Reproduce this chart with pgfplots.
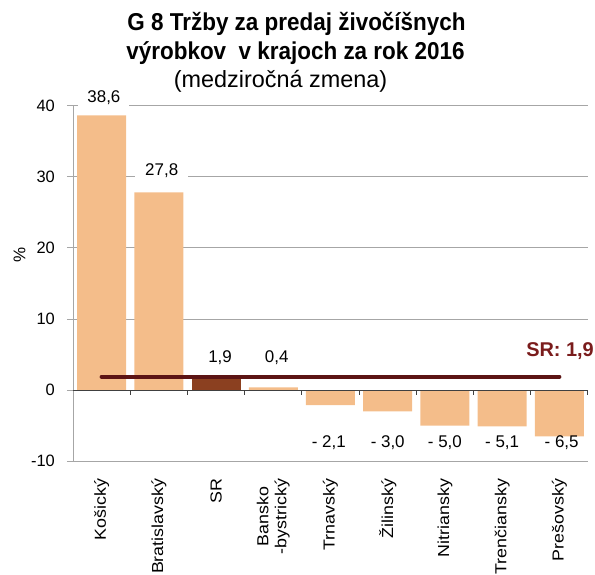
\documentclass[border=0pt]{standalone}
\usepackage{fontspec}
\setmainfont{Liberation Sans}
\newfontfamily\titlefont[FakeStretch=0.92]{Liberation Sans}
\newfontfamily\vfont[FakeStretch=1.12]{Liberation Sans}
\usepackage{pgfplots}
\pgfplotsset{compat=1.18}
\definecolor{barlight}{HTML}{F4BD8A}
\definecolor{barsr}{HTML}{8B4020}
\definecolor{srline}{HTML}{5C1414}
\definecolor{srtext}{HTML}{7A1C1C}
\definecolor{gridc}{HTML}{A6A6A6}
\definecolor{zeroc}{HTML}{404040}
\begin{document}
\begin{tikzpicture}
\path[use as bounding box] (-73bp,-113.7bp) rectangle (522bp,461.3bp);
\begin{axis}[
  at={(0,0)}, anchor=south west,
  scale only axis, width=515bp, height=355.8bp,
  xmin=-0.5, xmax=8.5, ymin=-10, ymax=40,
  clip=false,
  axis y line*=left, axis x line*=bottom,
  x axis line style={draw=none},
  y axis line style={draw=gridc, line width=0.8bp},
  xtick={0,...,8},
  xticklabels={Košický, Bratislavský, SR, {Bansko\\-bystrický}, Trnavský, Žilinský, Nitriansky, Trenčiansky, Prešovský},
  xtick style={draw=none},
  xticklabel style={rotate=90, anchor=east, align=center, inner sep=0pt, font=\fontsize{16}{18}\vfont, text=black},
  xticklabel shift=11.2bp,
  ytick={-10,0,10,20,30,40},
  yticklabels={-10,0,10,20,30,40},
  ytick style={draw=gridc, line width=0.8bp},
  tick align=outside, major tick length=6bp,
  yticklabel style={inner sep=0pt, font=\fontsize{16.5}{19}\selectfont, text=black},
  yticklabel shift=12bp,
  ymajorgrids, grid style={draw=gridc, line width=0.8bp},
]
\addplot[ybar, bar width=49bp, bar shift=0pt, fill=barlight, draw=none]
  coordinates {(0,38.6) (1,27.8) (3,0.4) (4,-2.1) (5,-3.0) (6,-5.0) (7,-5.1) (8,-6.5)};
\addplot[ybar, bar width=49bp, bar shift=0pt, fill=barsr, draw=none]
  coordinates {(2,1.9)};
\draw[zeroc, line width=1bp] (axis cs:-0.5,0) -- (axis cs:8.5,0);
\draw[zeroc, line width=1bp]
  (axis cs:0.5,0) -- (axis cs:0.5,-0.63)
  (axis cs:1.5,0) -- (axis cs:1.5,-0.63)
  (axis cs:2.5,0) -- (axis cs:2.5,-0.63)
  (axis cs:3.5,0) -- (axis cs:3.5,-0.63)
  (axis cs:4.5,0) -- (axis cs:4.5,-0.63)
  (axis cs:5.5,0) -- (axis cs:5.5,-0.63)
  (axis cs:6.5,0) -- (axis cs:6.5,-0.63)
  (axis cs:7.5,0) -- (axis cs:7.5,-0.63)
  (axis cs:8.5,0) -- (axis cs:8.5,-0.63);
\addplot[srline, line width=4bp, line cap=round] coordinates {(0,1.9) (8,1.9)};
\tikzset{vl/.style={anchor=base, font=\fontsize{17}{20}\selectfont, inner sep=0pt}}
\node[vl, fill=white, inner xsep=9bp, inner ysep=2.5bp] at (axis cs:0.04,40.46) {38,6};
\node[vl, fill=white, inner xsep=10bp, inner ysep=2.5bp] at (axis cs:1.05,30.14) {27,8};
\node[vl] at (axis cs:2.07,3.92) {1,9};
\node[vl] at (axis cs:3.06,3.92) {0,4};
\node[vl] at (axis cs:3.97,-8.02) {- 2,1};
\node[vl] at (axis cs:5.0,-8.02) {- 3,0};
\node[vl] at (axis cs:6.0,-8.02) {- 5,0};
\node[vl] at (axis cs:7.0,-8.02) {- 5,1};
\node[vl] at (axis cs:8.04,-8.02) {- 6,5};
\node[anchor=base east, inner sep=0pt, font=\fontsize{20}{24}\bfseries, text=srtext] at (axis cs:8.605,4.67) {SR: 1,9};
\end{axis}
\node[rotate=90, inner sep=0pt, font=\fontsize{17}{20}\selectfont] at (-53.5bp,206bp) {\%};
\node[anchor=base, inner sep=0pt, font=\fontsize{24.5}{28}\titlefont\bfseries] at (223.5bp,430.6bp) {G 8 Tržby za predaj živočíšnych};
\node[anchor=base, inner sep=0pt, font=\fontsize{24.5}{28}\titlefont\bfseries] at (222.5bp,401.3bp) {výrobkov\ \ v krajoch za rok 2016};
\node[anchor=base, inner sep=0pt, font=\fontsize{23.5}{28}\selectfont] at (207.5bp,373.3bp) {(medziročná zmena)};
\end{tikzpicture}
\end{document}
